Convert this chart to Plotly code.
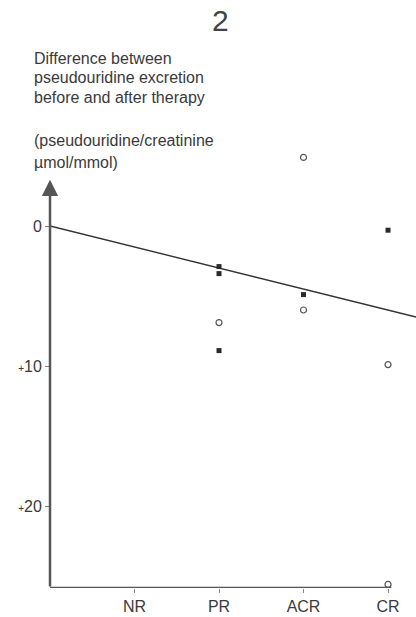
import plotly.graph_objects as go

categories = ["NR", "PR", "ACR", "CR"]
cat_pos = [1, 2, 3, 4]

# filled squares (x category position, value)
filled_x = [2, 2, 2, 3, 4]
filled_y = [2.9, 3.4, 8.9, 4.9, 0.3]

# open circles
open_x = [2, 3, 3, 4, 4]
open_y = [6.9, 6.0, -4.9, 9.9, 25.6]

# regression line parameters
trend_intercept = 0.0
trend_slope = 1.5

y_ticks = [0, 10, 20]
y_ticktext = ["0", "<span style='font-size:10px'>+</span>10",
              "<span style='font-size:10px'>+</span>20"]

X_MAX = 4.331
Y_BOTTOM = 25.857
Y_TOP = -6.143
AXIS_TOP = -3.3
AXIS_RIGHT = 4.04

text_col = "#3a3a3a"
font_family = "Liberation Sans, Arial, sans-serif"

fig = go.Figure()

trend_x = [0, X_MAX]
trend_y = [trend_intercept + trend_slope * v for v in trend_x]
fig.add_trace(go.Scatter(x=trend_x, y=trend_y, mode="lines",
                         line=dict(color="#333333", width=1.4),
                         hoverinfo="skip", showlegend=False, cliponaxis=False))

fig.add_trace(go.Scatter(x=filled_x, y=filled_y, mode="markers",
                         marker=dict(symbol="square", size=5, color="#2a2a2a"),
                         showlegend=False, cliponaxis=False))

fig.add_trace(go.Scatter(x=open_x, y=open_y, mode="markers",
                         marker=dict(symbol="circle-open", size=6, color="#555555",
                                     line=dict(width=1.2)),
                         showlegend=False, cliponaxis=False))

# axes as shapes / arrow
fig.add_shape(type="line", x0=0, x1=AXIS_RIGHT, y0=Y_BOTTOM, y1=Y_BOTTOM,
              xref="x", yref="y", line=dict(color="#555555", width=2.5))
fig.add_annotation(x=0, y=AXIS_TOP, ax=0, ay=Y_BOTTOM, xref="x", yref="y",
                   axref="x", ayref="y", text="", showarrow=True,
                   arrowhead=2, arrowsize=1.3, arrowwidth=2.5, arrowcolor="#555555")

# texts (page pixel positions -> paper coords; plot area is page x 50..416, y 140..588)
def px_to_paper_y(p):
    return (588 - p) / 448

def px_to_paper_x(p):
    return (p - 50) / 366

fig.add_annotation(text="2", x=px_to_paper_x(220), y=px_to_paper_y(20),
                   xref="paper", yref="paper", showarrow=False,
                   font=dict(size=30, color="#444444", family=font_family),
                   xanchor="center", yanchor="middle", borderpad=0)

lines = [("Difference between", 58), ("pseudouridine excretion", 77),
         ("before and after therapy", 97), ("(pseudouridine/creatinine", 140),
         ("µmol/mmol)", 162)]
for t, yp in lines:
    fig.add_annotation(text=t, x=px_to_paper_x(32), y=px_to_paper_y(yp),
                       xref="paper", yref="paper", showarrow=False,
                       font=dict(size=16, color=text_col, family=font_family),
                       xanchor="left", yanchor="middle")

fig.update_layout(
    width=416, height=617,
    margin=dict(l=50, r=0, t=140, b=29),
    paper_bgcolor="white", plot_bgcolor="white",
    hovermode=False,
    xaxis=dict(range=[0, X_MAX], tickvals=cat_pos, ticktext=categories,
               showgrid=False, zeroline=False, showline=False,
               ticks="outside", ticklen=4, tickcolor="#888888",
               tickfont=dict(size=16, color=text_col, family=font_family)),
    yaxis=dict(range=[Y_BOTTOM, Y_TOP], tickvals=y_ticks, ticktext=y_ticktext,
               showgrid=False, zeroline=False, showline=False,
               ticks="outside", ticklen=4, tickcolor="#888888",
               tickfont=dict(size=16, color=text_col, family=font_family)),
)

# remove the default 8px page margin so the figure fills the window
fig.write_html("out.html", config={"displayModeBar": False},
               post_script="document.body.style.margin='0';document.body.style.overflow='hidden';")
